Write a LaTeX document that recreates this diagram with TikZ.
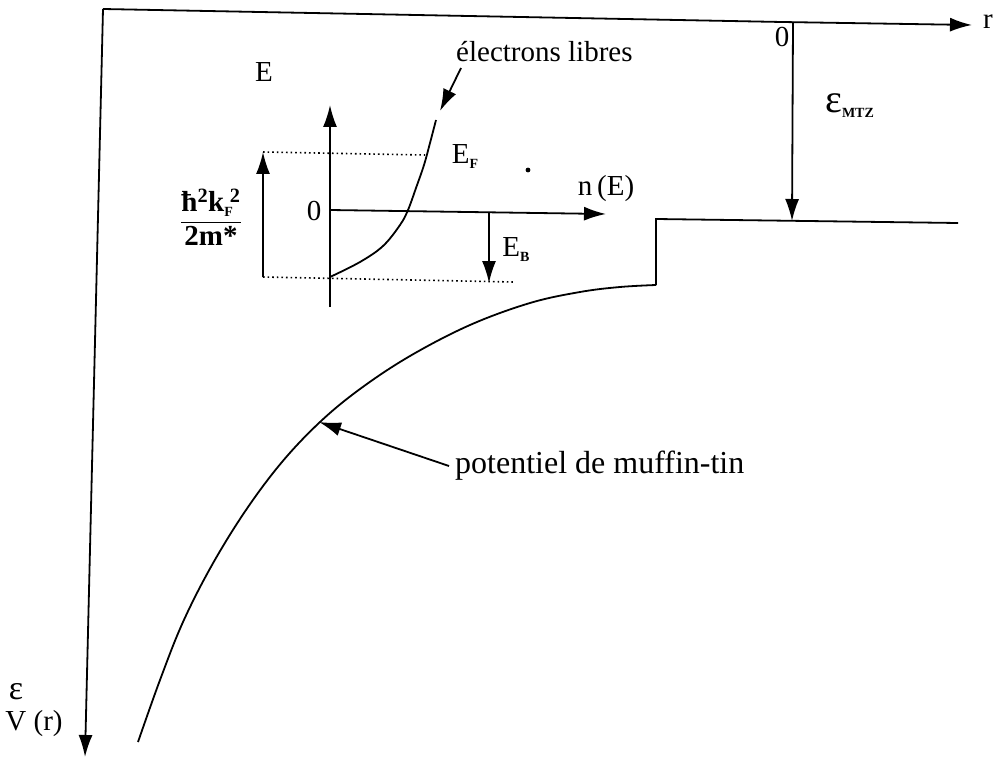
\documentclass[tikz,border=0pt]{standalone}
\usepackage{fontspec}
\setmainfont{Liberation Serif}
\usetikzlibrary{arrows.meta}
\tikzset{
  ln/.style={line width=1.8pt},
  arr/.style={line width=1.8pt,-{Latex[length=22pt,width=14pt]}},
  dots/.style={line width=1.6pt,dash pattern=on 1.6pt off 3pt},
  lbl/.style={inner sep=0pt,font=\fontsize{29}{34}\selectfont},
  big/.style={inner sep=0pt,font=\fontsize{32}{38}\selectfont},
  mid/.style={inner sep=0pt,font=\fontsize{29}{34}\selectfont},
}
\newcommand{\sbs}[1]{\raisebox{-5pt}{\fontsize{14}{14}\selectfont\bfseries #1}}
\begin{document}
\begin{tikzpicture}[x=1pt,y=-1pt]
\useasboundingbox (0,0) rectangle (1000,762);
% main axes
\coordinate (corner) at (103,9);
\coordinate (yend) at (85,757);
\coordinate (origin) at (782,22);
\coordinate (xend) at (972,25);
\draw[ln] (corner) -- (origin);
\draw[arr] (origin) -- (xend);
\draw[arr] (corner) -- (yend);
\node[lbl] (r) at (988,22) {r};
\node[lbl] (zero1) at (782,37) {0};
\node[lbl] (eps) at (16,692) {\fontsize{34}{34}\selectfont ε};
\node[lbl] (Vr) at (34,724) {V (r)};
% MTZ level
\coordinate (mtztop) at (793,22);
\coordinate (mtzbot) at (792,221);
\draw[arr] (mtztop) -- (mtzbot);
\node[lbl,anchor=west] (emtz) at (825,106) {{\fontsize{40}{40}\selectfont ε}\sbs{MTZ}};
\coordinate (stepT) at (656,219);
\coordinate (lvlR) at (958,223);
\coordinate (stepB) at (656,285);
\draw[ln] (lvlR) -- (stepT) -- (stepB);
% muffin-tin potential curve
\draw[ln] plot[smooth,tension=0.6] coordinates {(656,285) (620,287) (580,292) (530,303) (470,325) (410,356) (360,389) (320,422) (282,462) (246,510) (212,565) (183,622) (160,680) (138,742)};
\node[big,anchor=west] (pot) at (455,466) {potentiel de muffin-tin};
\coordinate (potTip) at (319,422);
\draw[arr] ([xshift=-6pt]pot.west) -- (potTip);
% inset axes
\coordinate (eaxB) at (330,307);
\coordinate (eaxT) at (330,105);
\draw[arr] (eaxB) -- (eaxT);
\coordinate (naxL) at (330,210);
\coordinate (naxR) at (606,214);
\draw[arr] (naxL) -- (naxR);
\node[lbl] (E) at (264,72) {E};
\node[lbl] (zero2) at (314,211) {0};
\node[lbl] (nE) at (606,189) {n\,(E)};
% dotted lines
\coordinate (dtL) at (263,152);
\coordinate (dtR) at (425,155);
\coordinate (dbL) at (263,277);
\coordinate (dbR) at (513,282);
\draw[dots] (dtL) -- (dtR);
\draw[dots] (dbL) -- (dbR);
\draw[arr] (dbL) -- (dtL);
\node[inner sep=0pt,font=\fontsize{29}{32}\selectfont\bfseries] (frac) at (211,217)
  {$\displaystyle\frac{\mbox{ħ\textsuperscript{2}k\rlap{\sbs{F}}\textsuperscript{\;2}}}{\mbox{2m*}}$};
% free electron curve
\draw[ln] plot[smooth,tension=0.6] coordinates {(330,277) (360,262) (383,246) (400,225) (408,210) (416,188) (424,165) (430,143) (436,120)};
\node[lbl] (EF) at (465,157) {E\sbs{F}};
\fill (528,170) circle (2.4pt);
% E_B
\coordinate (ebT) at (489,213);
\coordinate (ebB) at (489,283);
\draw[arr] (ebT) -- (ebB);
\node[lbl] (EB) at (516,250) {E\sbs{B}};
% label electrons libres
\node[mid,anchor=west] (el) at (456,52) {électrons libres};
\coordinate (elStart) at (461,68);
\coordinate (elTip) at (440,111);
\draw[arr] (elStart) -- (elTip);
\end{tikzpicture}
\end{document}
